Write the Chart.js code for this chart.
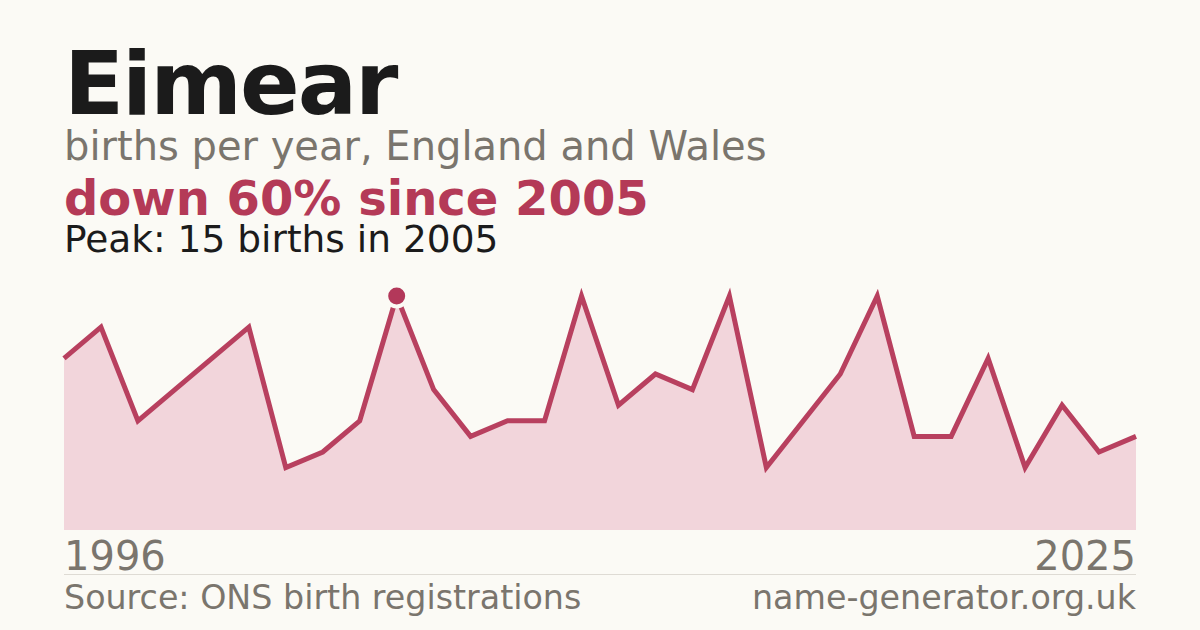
<!DOCTYPE html>
<html>
<head>
<meta charset="utf-8">
<script src="https://cdn.jsdelivr.net/npm/chart.js@4/dist/chart.umd.min.js"></script>
<style>
  html, body { margin: 0; padding: 0; }
  body {
    width: 1200px; height: 630px; overflow: hidden; position: relative;
    background: #fbfaf5; font-family: "DejaVu Sans", sans-serif;
  }
  .txt { position: absolute; left: 64px; line-height: 1; white-space: nowrap; }
  #title { top: 40px; font-size: 88px; font-weight: bold; color: #1b1b1b; letter-spacing: -2px; }
  #subtitle { top: 126px; font-size: 40px; color: #7a756d; }
  #change { top: 174px; font-size: 48px; font-weight: bold; color: #b43a57; }
  #peak { top: 221px; font-size: 37.5px; color: #1b1b1b; }
  .tick { position: absolute; top: 536px; font-size: 40px; line-height: 1; color: #7a756d; }
  #divider { position: absolute; left: 64px; width: 1072px; top: 574px; height: 1px; background: #dedbd4; }
  .foot { position: absolute; top: 581px; font-size: 33.3px; line-height: 1; color: #7a756d; white-space: nowrap; }
  #chartBox { position: absolute; left: 44px; top: 270px; width: 1112px; height: 260px; }
</style>
</head>
<body>
<div class="txt" id="title">Eimear</div>
<div class="txt" id="subtitle">births per year, England and Wales</div>
<div class="txt" id="change">down 60% since 2005</div>
<div class="txt" id="peak">Peak: 15 births in 2005</div>
<div id="chartBox"><canvas id="namesChart"></canvas></div>
<div id="ticks"></div>
<div id="divider"></div>
<div class="foot" style="left:64px">Source: ONS birth registrations</div>
<div class="foot" style="right:64px">name-generator.org.uk</div>

<script>
const years = [1996, 1997, 1998, 1999, 2000, 2001, 2002, 2003, 2004, 2005,
               2006, 2007, 2008, 2009, 2010, 2011, 2012, 2013, 2014, 2015,
               2016, 2017, 2018, 2019, 2020, 2021, 2022, 2023, 2024, 2025];
const births = [11, 13, 7, 9, 11, 13, 4, 5, 7, 15,
                9, 6, 7, 7, 15, 8, 10, 9, 15, 4,
                7, 10, 15, 6, 6, 11, 4, 8, 5, 6];
const tickLabels = ['1996', '2025'];
const peakYear = 2005;

// Axis end labels
const ticksEl = document.getElementById('ticks');
tickLabels.forEach(function(label, i) {
    const el = document.createElement('div');
    el.className = 'tick';
    el.textContent = label;
    if (i === 0) el.style.left = '64px';
    else el.style.right = '64px';
    ticksEl.appendChild(el);
});

const ctx = document.getElementById('namesChart').getContext('2d');
const namesChart = new Chart(ctx, {
    type: 'line',
    data: {
        datasets: [{
            data: years.map((y, i) => ({ x: y, y: births[i] })),
            borderColor: '#b8405f',
            borderWidth: 5,
            backgroundColor: '#f2d5db',
            fill: 'origin',
            tension: 0,
            clip: false,
            pointRadius: c => years[c.dataIndex] === peakYear ? 10.5 : 0,
            pointBackgroundColor: '#b3385a',
            pointBorderColor: '#fbfaf5',
            pointBorderWidth: 4,
            pointHoverRadius: 0
        }]
    },
    options: {
        responsive: true,
        maintainAspectRatio: false,
        animation: false,
        layout: { padding: { left: 20, right: 20, top: 26, bottom: 0 } },
        plugins: {
            legend: { display: false },
            tooltip: { enabled: false }
        },
        scales: {
            x: { type: 'linear', min: years[0], max: years[years.length - 1], display: false },
            y: { min: 0, max: 15, display: false }
        }
    }
});
</script>
</body>
</html>
